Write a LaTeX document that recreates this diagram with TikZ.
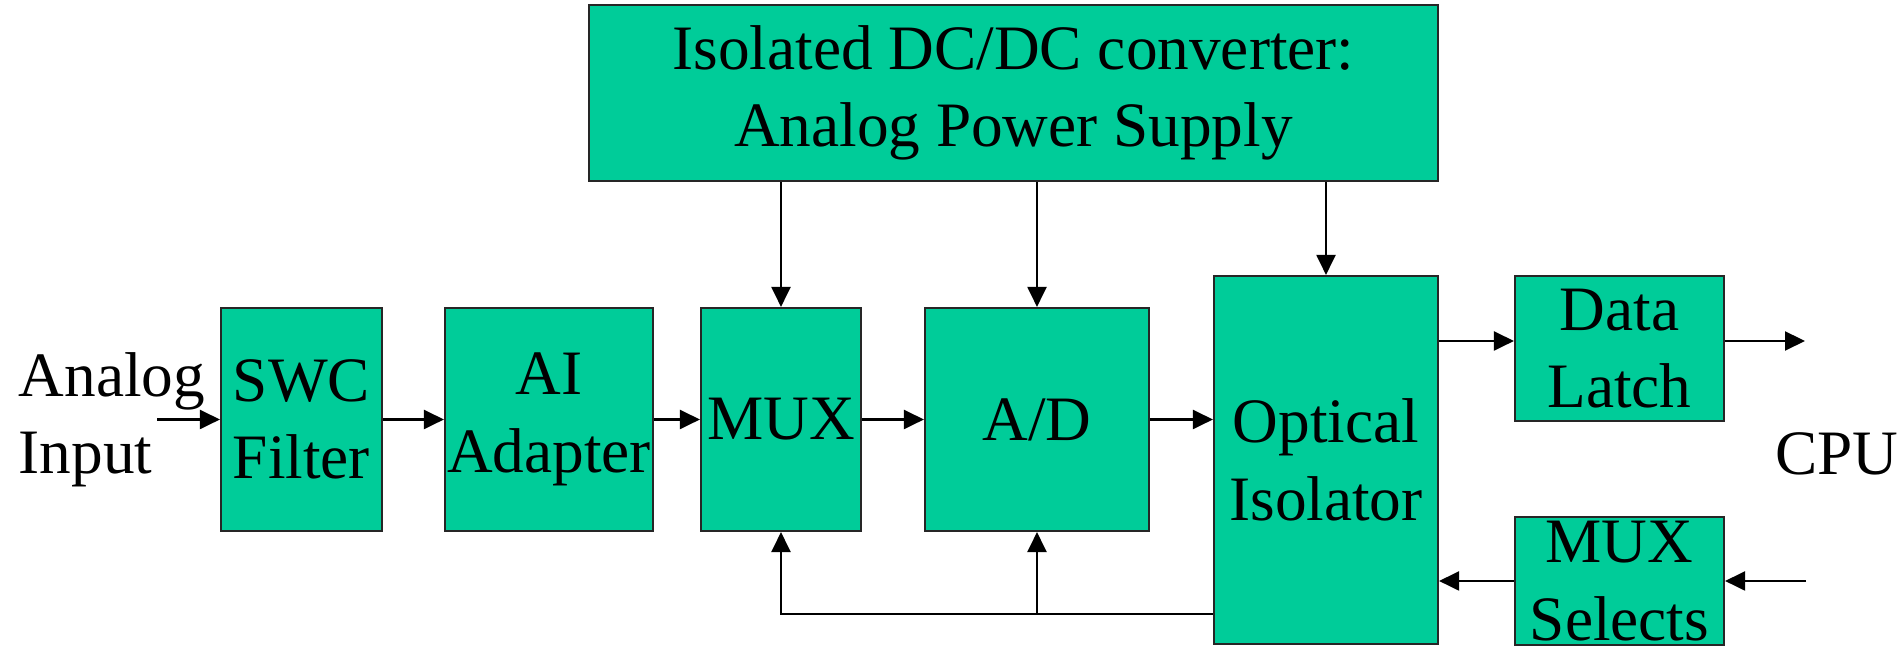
\documentclass[tikz,border=0pt]{standalone}
\usepackage{fontspec}
\setmainfont{Liberation Serif}
\usetikzlibrary{arrows.meta,positioning}
\definecolor{boxgreen}{RGB}{0,204,153}
\tikzset{
  block/.style={
    shape = rectangle,
    draw = black!85,
    fill = boxgreen,
    line width = 0.6pt,
    inner sep = 0pt,
    align = center,
    font = \fontsize{18}{22}\selectfont
  },
  sig/.style={
    -{Triangle[length=2mm,width=1.9mm]},
    line width = 0.6pt
  },
  lbl/.style={
    inner sep = 0pt,
    font = \fontsize{18}{22}\selectfont
  }
}
\begin{document}
\begin{tikzpicture}
    \useasboundingbox (0,0) rectangle (19.01,6.47);
    \def\yb{2.275}
    \def\hb{2.23cm}
    % power supply on top
    \node[block, minimum width=8.49cm, minimum height=1.76cm] (psu) at (10.135,5.54) {Isolated DC/DC converter:\\Analog Power Supply};
    % signal chain
    \node[block, minimum width=1.61cm, minimum height=\hb] (swc) at (3.015,\yb) {SWC\\Filter};
    \node[block, minimum width=2.08cm, minimum height=\hb] (ai) at (5.49,\yb) {AI\\Adapter};
    \node[block, minimum width=1.60cm, minimum height=\hb] (mux) at (7.81,\yb) {MUX};
    \node[block, minimum width=2.24cm, minimum height=\hb] (ad) at (10.37,\yb) {A/D};
    \node[block, minimum width=2.24cm, minimum height=3.68cm] (oi) at (13.26,1.87) {Optical\\Isolator};
    \node[block, minimum width=2.09cm, minimum height=1.45cm] (dl) at (16.195,2.985) {Data\\Latch};
    \node[block, minimum width=2.09cm, minimum height=1.28cm] (ms) at (16.195,0.66) {MUX\\Selects};
    \node[lbl, anchor=west, align=left] (ain) at (0.18,\yb) {Analog\\Input};
    \node[lbl, anchor=base] (cpu) at (18.37,1.72) {CPU};
    % free ends
    \coordinate (inA) at (1.57,\yb);
    \coordinate (cpuA) at (18.05,3.06);
    \coordinate (cpuB) at (18.06,0.66);
    \coordinate (dlin) at ([yshift=0.75mm]dl.west);
    \coordinate (fb) at ([yshift=3.1mm]oi.south west);
    % connectors
    \draw[sig] (inA) -- (swc.west);
    \draw[sig] (swc.east) -- (ai.west);
    \draw[sig] (ai.east) -- (mux.west);
    \draw[sig] (mux.east) -- (ad.west);
    \draw[sig] (ad.east) -- (ad.east -| oi.west);
    \draw[sig] (psu.south -| mux.north) -- (mux.north);
    \draw[sig] (psu.south -| ad.north) -- (ad.north);
    \draw[sig] (psu.south -| oi.north) -- (oi.north);
    \draw[sig] (dlin -| oi.east) -- (dlin);
    \draw[sig] (dl.east |- cpuA) -- (cpuA);
    \draw[sig] (cpuB) -- (ms.east);
    \draw[sig] (ms.west) -- (ms.west -| oi.east);
    \draw[sig] (fb) -| (mux.south);
    \draw[sig] (fb -| ad.south) -- (ad.south);
\end{tikzpicture}
\end{document}
